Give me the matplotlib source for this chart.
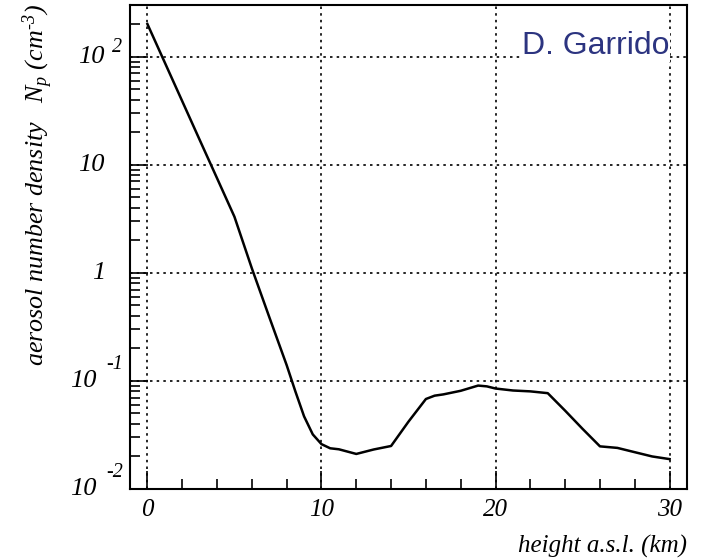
import numpy as np
import matplotlib.pyplot as plt
from matplotlib.ticker import FixedLocator, LogLocator, MultipleLocator, NullFormatter

plt.rcParams['mathtext.fontset'] = 'custom'
plt.rcParams['mathtext.rm'] = 'Liberation Serif:italic'
plt.rcParams['mathtext.it'] = 'Liberation Serif:italic'

# height above sea level (km) and aerosol number density (cm^-3)
height = [0, 1, 2, 3, 4, 5, 6, 7, 8, 8.5, 9, 9.5, 10, 10.5, 11, 12, 13, 14, 15,
          16, 16.5, 17, 18, 19, 19.5, 20, 21, 22, 23, 24, 25, 26, 27, 28, 29, 30]
density = [200, 88, 38.7, 17, 7.5, 3.3, 1.1, 0.39, 0.14, 0.08, 0.047, 0.032, 0.026,
           0.0238, 0.0233, 0.0211, 0.0232, 0.025, 0.042,
           0.068, 0.073, 0.075, 0.081, 0.0905, 0.089, 0.085, 0.0815, 0.080, 0.077,
           0.053, 0.036, 0.0248, 0.024, 0.0219, 0.020, 0.0189]

HY = '\u2010'
yticks = [1e-2, 1e-1, 1, 10, 1e2]
ytick_base = ['10', '10', '1', '10', '10']
ytick_exp = [HY + '2', HY + '1', '', '', '2']
xticks = [0, 10, 20, 30]

W, H = 701, 559
fig = plt.figure(figsize=(W / 100, H / 100), dpi=100)
ax = fig.add_axes([130 / W, 1 - 489 / H, 557 / W, 484 / H])

ax.plot(height, density, color='black', lw=1.8)

ax.set_yscale('log')
ax.set_xlim(-1, 31)
ax.set_ylim(1e-2, 300)

ax.xaxis.set_major_locator(FixedLocator(xticks))
ax.xaxis.set_minor_locator(MultipleLocator(2))
ax.yaxis.set_major_locator(FixedLocator(yticks))
ax.yaxis.set_major_formatter(NullFormatter())
ax.yaxis.set_minor_locator(LogLocator(base=10, subs=np.arange(2, 10)))
ax.yaxis.set_minor_formatter(NullFormatter())

ax.tick_params(which='major', direction='in', length=13, width=1.2,
               top=False, right=False, labelsize=18)
ax.tick_params(axis='x', which='major', pad=7)
ax.tick_params(which='minor', direction='in', length=7, width=1.2,
               top=False, right=False)
for lab in ax.get_xticklabels():
    lab.set_fontfamily('Liberation Serif')
    lab.set_fontstyle('italic')

# y tick labels in the ROOT way: base and a raised exponent
tr = ax.get_yaxis_transform()
for v, b, e in zip(yticks, ytick_base, ytick_exp):
    neg = e.startswith(HY)
    bx = (105 - (8 if neg else 0) - 130) / 557
    ax.text(bx, v, b, transform=tr, ha='right', va='center', fontsize=19,
            family='Liberation Serif', style='italic')
    if e:
        ex = bx + (9 if neg else 7) / 557
        ax.annotate(e, (ex, v), xycoords=tr, xytext=(0, 16 if neg else 9),
                    textcoords='offset pixels', ha='left', va='center',
                    fontsize=14.5, family='Liberation Serif', style='italic')

ax.grid(True, which='major', color='black', linestyle=(0, (1.5, 2.5)), lw=1.2)
for s in ax.spines.values():
    s.set_linewidth(1.5)

ax.set_xlabel('height a.s.l. (km)', fontsize=18, family='Liberation Serif',
              style='italic', loc='right', labelpad=10)
fig.text(38 / W, 1 - 185 / H, r'aerosol number density   $N_p\ (cm^{' + HY + '3})$',
         rotation=90, ha='center', va='center', fontsize=18.7,
         family='Liberation Serif', style='italic')

ax.text(0.968, 0.915, 'D. Garrido', transform=ax.transAxes, ha='right', va='center',
        fontsize=23, family='Liberation Sans', color='#2c3480',
        bbox=dict(facecolor='white', edgecolor='none', pad=1))

fig.savefig('out.png', dpi=100)
